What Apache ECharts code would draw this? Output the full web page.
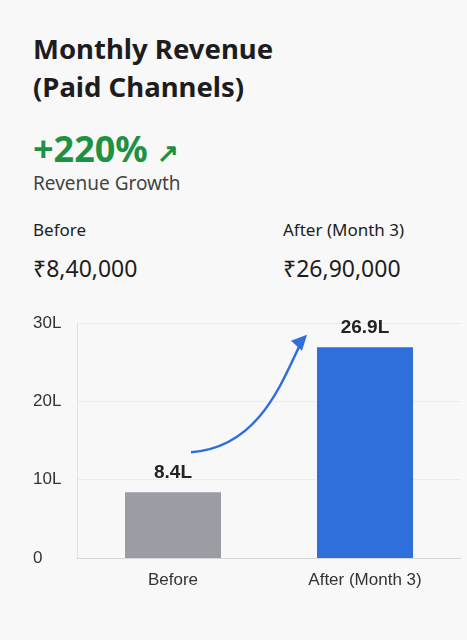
<!DOCTYPE html>
<html><head><meta charset="utf-8">
<script src="https://cdn.jsdelivr.net/npm/echarts@6/dist/echarts.min.js"></script>
<style>
html,body{margin:0;padding:0;background:#f8f8f8;font-family:"Noto Sans",Roboto,sans-serif;}
#wrap{position:relative;width:467px;height:640px;}
.t{position:absolute;left:33px;white-space:nowrap;color:#1d1d1d;}
#chart{position:absolute;left:0;top:300px;width:467px;height:320px;}
</style></head>
<body><div id="wrap">
<div class="t" style="top:30px;font-size:27.5px;font-weight:700;line-height:38px;">Monthly Revenue<br>(Paid Channels)</div>
<div class="t" style="top:124px;font-size:36px;font-weight:700;color:#1f9142;">+220% <span style="font-size:26px">&#8599;</span></div>
<div class="t" style="top:170px;font-size:19px;color:#444;">Revenue Growth</div>
<div class="t" style="top:218px;font-size:17px;">Before</div>
<div class="t" style="top:252px;font-size:23px;">₹8,40,000</div>
<div class="t" style="top:218px;left:283px;font-size:17px;">After (Month 3)</div>
<div class="t" style="top:252px;left:283px;font-size:23px;">₹26,90,000</div>
<div id="chart"></div>
</div>
<script>
var categories=['Before','After (Month 3)'];
var values=[8.4,26.9];
var tickLabels=['0','10L','20L','30L'];
var colors=['#9a9ea4','#2f6fdc'];

var chart=echarts.init(document.getElementById('chart'));
chart.setOption({
  grid:{left:77,right:6,top:23,bottom:62},
  xAxis:{type:'category',data:categories,axisTick:{show:false},
    axisLine:{lineStyle:{color:'#d8d8d8'}},
    axisLabel:{color:'#333',fontSize:17,margin:14}},
  yAxis:{type:'value',min:0,max:30,interval:10,
    axisLine:{show:true,lineStyle:{color:'#e2e2e2'}},
    splitLine:{lineStyle:{color:'#ececec'}},
    axisLabel:{formatter:function(v){return tickLabels[v/10];},color:'#333',fontSize:17,align:'left',margin:44}},
  series:[{type:'bar',barWidth:96,
    data:values.map(function(v,i){return {value:v,itemStyle:{color:colors[i]}};}),
    label:{show:true,position:'top',distance:10,fontSize:19,fontWeight:600,color:'#222',formatter:function(p){return p.value+'L';}}}]
});
var a=chart.convertToPixel({xAxisIndex:0,yAxisIndex:0},[0,13.5]);
var b=chart.convertToPixel({xAxisIndex:0,yAxisIndex:0},[1,28]);
var x1=a[0]+18,y1=a[1],x2=b[0]-62,y2=b[1];
chart.setOption({graphic:[
  {type:'bezierCurve',shape:{x1:x1,y1:y1,x2:x2,y2:y2,cpx1:x1+70,cpy1:y1-5,cpx2:x2-20,cpy2:y2+40},
   style:{stroke:'#2f6fdc',lineWidth:2.5,fill:null}},
  {type:'polygon',shape:{points:[[x2+4,y2-4],[x2-12,y2+2],[x2-1,y2+12]]},style:{fill:'#2f6fdc'}}
]});
</script></body></html>
